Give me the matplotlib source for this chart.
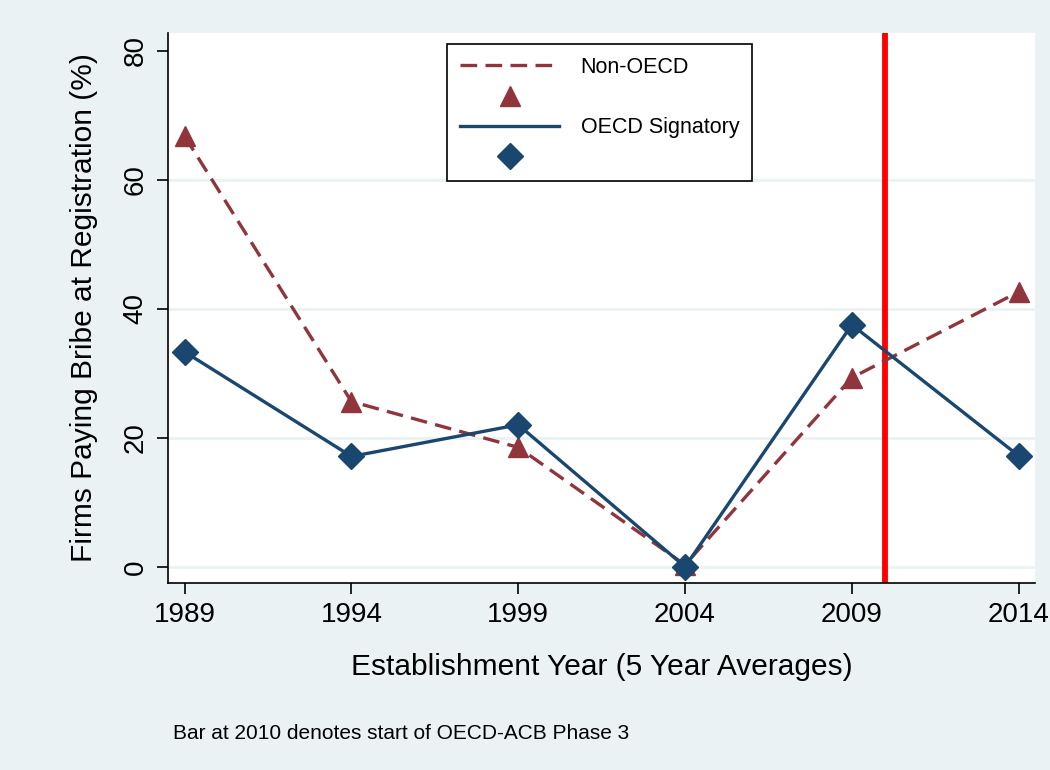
import matplotlib.pyplot as plt
from matplotlib.lines import Line2D

plt.rcParams['font.family'] = ['Liberation Sans', 'DejaVu Sans']

years = [1989, 1994, 1999, 2004, 2009, 2014]
non_oecd = [66.7, 25.6, 18.5, 0.3, 29.3, 42.6]
oecd = [33.3, 17.1, 22.0, 0.0, 37.5, 17.2]
bar_year = 2010

maroon = "#90353B"
navy = "#1A476F"
bg = "#EAF2F3"
dash = (0, (5, 2.5))

fig = plt.figure(figsize=(10.5, 7.7), dpi=100, facecolor=bg)
ax = fig.add_axes([0.16, 0.243, 0.826, 0.714])
ax.set_facecolor("white")

ax.plot(years, non_oecd, color=maroon, linestyle=dash, linewidth=2.4,
        marker="^", markersize=15, zorder=3)
ax.plot(years, oecd, color=navy, linestyle="-", linewidth=2.4,
        marker="D", markersize=13, zorder=4)
ax.axvline(bar_year, color="#FF0000", linewidth=4.2, zorder=2)

ax.set_xlim(1988.5, 2014.5)
ax.set_ylim(-2.5, 82.7)
ax.set_xticks(years)
ax.set_yticks([0, 20, 40, 60, 80])
ax.set_yticklabels(["0", "20", "40", "60", "80"], rotation=90, va="center")
ax.yaxis.grid(True, color=bg, linewidth=2)
ax.get_ygridlines()[-1].set_visible(False)
ax.set_axisbelow(True)
ax.tick_params(axis="both", labelsize=20, length=8, width=1.2, direction="out")
ax.tick_params(axis="y", pad=6)
ax.tick_params(axis="x", pad=6)
for side in ["top", "right"]:
    ax.spines[side].set_visible(False)
for side in ["left", "bottom"]:
    ax.spines[side].set_linewidth(1.2)

ax.set_xlabel("Establishment Year (5 Year Averages)", fontsize=21.5, labelpad=18)
ax.set_ylabel("Firms Paying Bribe at Registration (%)", fontsize=21.5, labelpad=18)

handles = [
    Line2D([], [], color=maroon, linestyle=dash, linewidth=2.4),
    Line2D([], [], color=maroon, linestyle="none", marker="^", markersize=15),
    Line2D([], [], color=navy, linestyle="-", linewidth=2.4),
    Line2D([], [], color=navy, linestyle="none", marker="D", markersize=13),
]
labels = ["Non-OECD", " ", "OECD Signatory", " "]
leg = ax.legend(handles, labels, loc="upper left", bbox_to_anchor=(0.322, 0.98),
                borderaxespad=0, fontsize=15.5, handlelength=4.6, labelspacing=0.42,
                borderpad=0.6, handletextpad=1.0, fancybox=False, framealpha=1,
                edgecolor="black")
leg.get_frame().set_linewidth(1.2)

fig.text(0.165, 0.04, "Bar at 2010 denotes start of OECD-ACB Phase 3", fontsize=15)

fig.savefig("out.png", dpi=100, facecolor=bg)
